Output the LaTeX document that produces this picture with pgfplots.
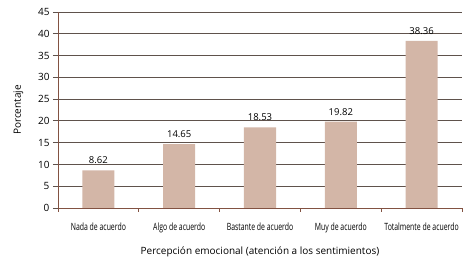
\documentclass[border=0pt]{standalone}
\usepackage{pgfplots}
\pgfplotsset{compat=1.18}
\usepackage{fontspec}
\setmainfont{Open Sans}
\definecolor{barc}{RGB}{211,182,167}
\definecolor{gridc}{RGB}{95,82,76}
\definecolor{axc}{RGB}{130,82,66}
\begin{document}
\begin{tikzpicture}
\useasboundingbox (-58pt,-56pt) rectangle (414pt,208pt);
\begin{axis}[
  scale only axis,
  width=404pt, height=196pt,
  xmin=-0.5, xmax=4.5,
  ymin=0, ymax=45,
  axis lines*=left,
  axis line style={axc, line width=0.9pt, -},
  ytick={0,5,...,45},
  ymajorgrids,
  grid style={gridc, line width=0.9pt},
  ytick style={gridc, line width=0.9pt},
  tick align=outside,
  major tick length=5pt,
  xtick={0,1,2,3,4},
  xticklabels={Nada de acuerdo, Algo de acuerdo, Bastante de acuerdo, Muy de acuerdo, Totalmente de acuerdo},
  xtick style={draw=none},
  extra x ticks={-0.5,0.5,1.5,2.5,3.5,4.5},
  extra x tick labels={},
  extra x tick style={xtick style={draw=axc, line width=0.7pt}, major tick length=4pt, grid=none},
  x tick label style={font=\fontsize{10}{12}\selectfont, yshift=-6pt, xscale=0.69},
  y tick label style={font=\fontsize{10}{12}\selectfont},
  /pgf/number format/assume math mode=true,
  ylabel={Porcentaje},
  ylabel style={font=\fontsize{10}{12}\selectfont, yshift=8pt},
  xlabel={Percepción emocional (atención a los sentimientos)},
  xlabel style={font=\fontsize{10}{12}\selectfont, yshift=2pt},
  ybar, bar width=32pt,
  nodes near coords,
  nodes near coords style={font=\fontsize{9.5}{11}\selectfont, color=black, yshift=3pt},
  point meta=explicit symbolic,
]
\addplot[fill=barc, draw=none] coordinates {
  (0,8.62) [8.62] (1,14.65) [14.65] (2,18.53) [18.53] (3,19.82) [19.82] (4,38.36) [38.36]
};
\end{axis}
\end{tikzpicture}
\end{document}
